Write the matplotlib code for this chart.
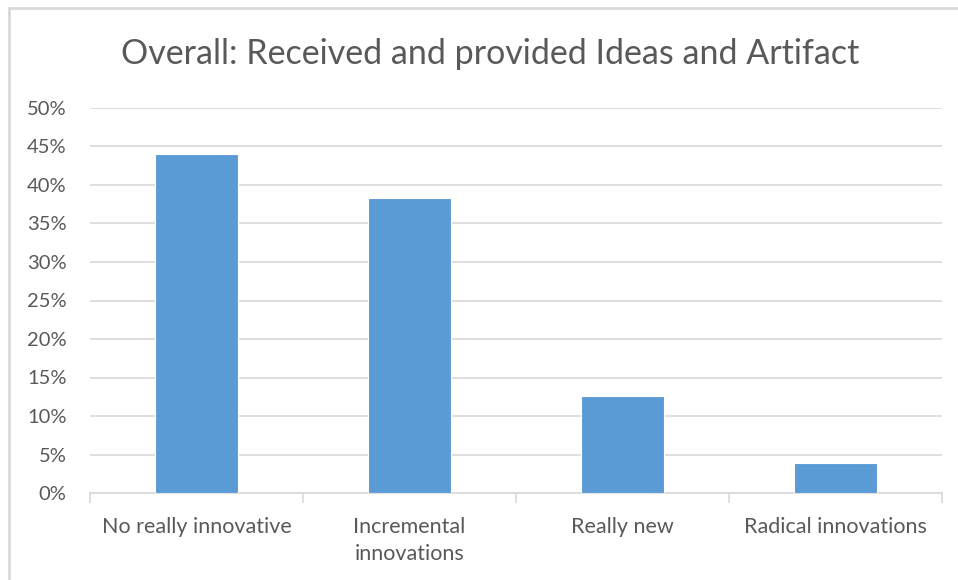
import matplotlib.pyplot as plt
from matplotlib.patches import Rectangle
from matplotlib.ticker import FuncFormatter, FixedLocator
import numpy as np

categories = ["No really innovative", "Incremental\ninnovations", "Really new", "Radical innovations"]
shares = [44.0, 38.3, 12.6, 3.9]
y_ticks = [0, 5, 10, 15, 20, 25, 30, 35, 40, 45, 50]

bar_color = "#5B9BD5"
text_color = "#595959"
grid_color = "#D9D9D9"

plt.rcParams['font.family'] = ['Lato', 'DejaVu Sans']

fig = plt.figure(figsize=(9.58, 5.80), dpi=100)
ax = fig.add_axes([90 / 958, 1 - 493 / 580, 852 / 958, 385 / 580])

x = np.arange(len(categories))
ax.bar(x, shares, width=0.385, color=bar_color, edgecolor="white", linewidth=0.8, zorder=3)

ax.set_xlim(-0.5, len(categories) - 0.5)
ax.set_ylim(0, 50)
ax.set_yticks(y_ticks)
ax.yaxis.set_major_formatter(FuncFormatter(lambda v, p: f"{v:.0f}%"))
ax.yaxis.grid(True, color=grid_color, linewidth=1.2, zorder=0)
ax.set_axisbelow(True)

ax.set_xticks(x)
ax.set_xticklabels(categories, linespacing=1.45)
ax.xaxis.set_minor_locator(FixedLocator(np.arange(len(categories) + 1) - 0.5))
ax.tick_params(axis="x", which="major", length=0, pad=17, labelsize=15.5, colors=text_color)
ax.tick_params(axis="x", which="minor", length=7, width=1.2, color=grid_color)
ax.tick_params(axis="y", length=0, pad=17, labelsize=14.5, colors=text_color)

for side in ["top", "right", "left"]:
    ax.spines[side].set_visible(False)
ax.spines["bottom"].set_color(grid_color)
ax.spines["bottom"].set_linewidth(1.2)

fig.text(490 / 958, 1 - 54 / 580, "Overall: Received and provided Ideas and Artifact",
         ha="center", va="center", fontsize=24.5, color=text_color)

# chart frame
fig.patches.append(Rectangle((9 / 958, -0.1), 1.2, 1 - 8 / 580 + 0.1, transform=fig.transFigure,
                             fill=False, edgecolor=grid_color, linewidth=2))

fig.savefig("out.png", dpi=100, facecolor="white")
